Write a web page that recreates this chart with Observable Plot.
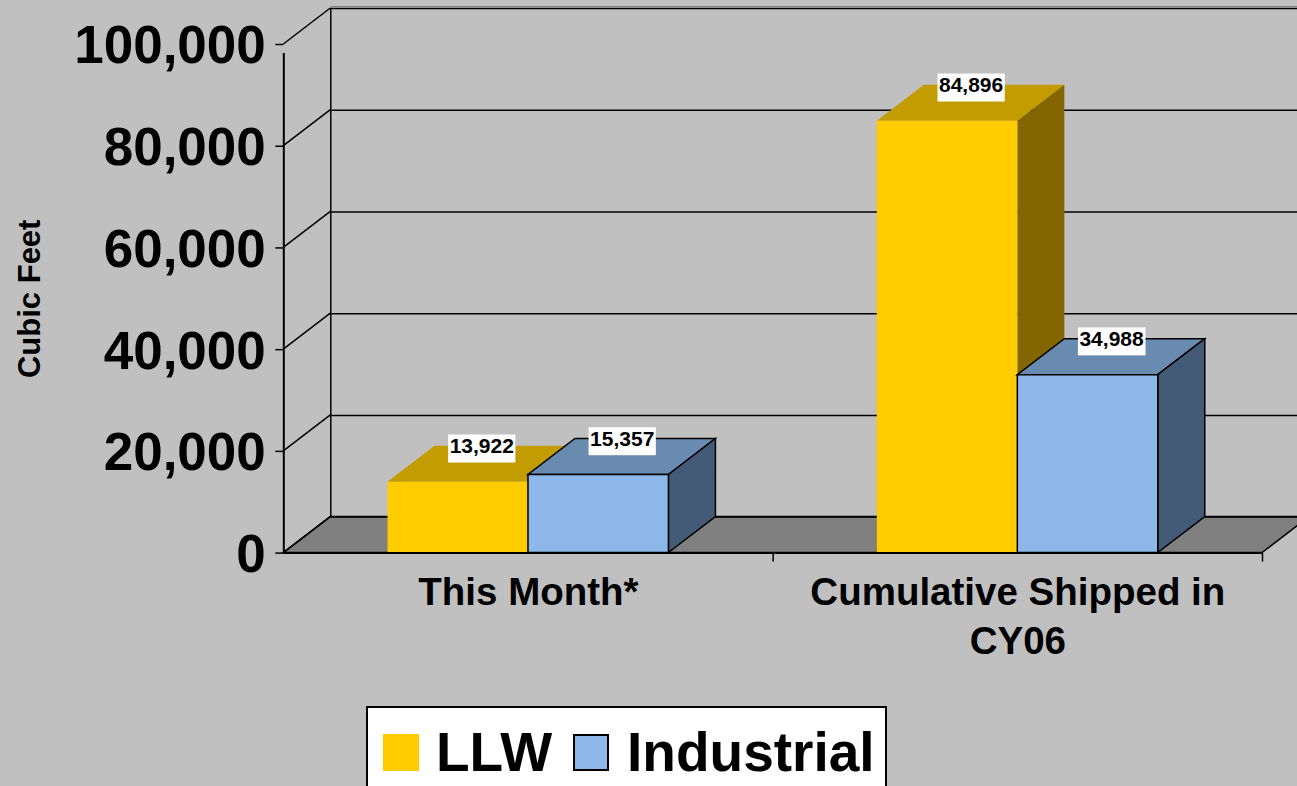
<!DOCTYPE html>
<html><head><meta charset="utf-8">
<script src="https://cdn.jsdelivr.net/npm/d3@7"></script>
<script src="https://cdn.jsdelivr.net/npm/@observablehq/plot@0.6"></script>
<style>
html,body{margin:0;padding:0;background:#c0c0c0;width:1297px;height:786px;overflow:hidden;font-family:"Liberation Sans",Arial,sans-serif;}
#chart{position:absolute;left:0;top:0;}
#legend{position:absolute;left:366px;top:706px;width:502px;height:100px;background:#fff;border:2px solid #000;display:flex;align-items:flex-start;padding-left:15px;box-sizing:content-box;}
.sw{width:36px;height:37px;margin-top:26px;box-sizing:border-box;flex:none;}
.lt{font-size:55px;font-weight:bold;line-height:55px;margin-top:17px;color:#000;white-space:nowrap;}
</style></head><body>
<div id="chart"></div>
<div id="legend"></div>
<script>
// ---- data ----
const categories = ["This Month*", "Cumulative Shipped in\nCY06"];
const seriesNames = ["LLW", "Industrial"];
const llwValues = [13922, 84896];
const industrialValues = [15357, 34988];
const yTickValues = [0, 20000, 40000, 60000, 80000, 100000];

// ---- styles ----
const seriesStyle = {
  LLW: {front: "#FFCC00", top: "#C29C00", side: "#836600", stroke: "none"},
  Industrial: {front: "#8CB7E8", top: "#6A8BB0", side: "#445B77", stroke: "#000"}
};
const DX = 47, DY = -36;      // 3D depth offset (pixels)
const BAR_W = 0.287;          // bar width as a fraction of a category band
const fmt = d3.format(",");

const rows = [];
categories.forEach((c, ci) => {
  [llwValues, industrialValues].forEach((vals, si) => {
    rows.push({category: c, ci, series: seriesNames[si], si, value: vals[ci]});
  });
});
const bx1 = r => r.ci + 0.5 + (r.si - 1) * BAR_W;
const bx2 = r => bx1(r) + BAR_W;
const bandEdges = d3.range(categories.length + 1);

function addPoly(g, pts, fill, stroke, sw) {
  g.append("path")
    .attr("d", "M" + pts.map(p => p.join(",")).join("L") + "Z")
    .attr("fill", fill)
    .attr("stroke", stroke)
    .attr("stroke-width", stroke === "none" ? 0 : sw)
    .attr("stroke-linejoin", "miter");
}

function barRender(index, scales, values) {
  const g = d3.create("svg:g");
  for (const i of index) {
    const r = rows[i];
    const c = seriesStyle[r.series];
    const x1 = values.x1[i], x2 = values.x2[i], yb = values.y1[i], yt = values.y2[i];
    addPoly(g, [[x1, yt], [x2, yt], [x2 + DX, yt + DY], [x1 + DX, yt + DY]], c.top, c.stroke, 1.5);
    addPoly(g, [[x2, yt], [x2 + DX, yt + DY], [x2 + DX, yb + DY], [x2, yb]], c.side, c.stroke, 1.5);
    addPoly(g, [[x1, yt], [x2, yt], [x2, yb], [x1, yb]], c.front, c.stroke, 1.5);
  }
  return g.node();
}

function floorRender(index, scales, values) {
  const g = d3.create("svg:g");
  for (const i of index) {
    const x1 = values.x1[i], x2 = values.x2[i], y = values.y1[i];
    addPoly(g, [[x1, y], [x2, y], [x2 + DX, y + DY], [x1 + DX, y + DY]], "#808080", "#000", 1.5);
  }
  return g.node();
}

function wallLinkRender(index, scales, values) {
  const g = d3.create("svg:g");
  for (const i of index) {
    const x = values.x1[i], y = values.y1[i];
    g.append("line").attr("x1", x).attr("y1", y).attr("x2", x + DX).attr("y2", y + DY)
      .attr("stroke", "#000").attr("stroke-width", 1.5);
  }
  return g.node();
}

const nCat = categories.length;
const yMax = yTickValues[yTickValues.length - 1];

const chart = Plot.plot({
  width: 1297,
  height: 700,
  marginLeft: 0, marginRight: 0, marginTop: 0, marginBottom: 0,
  style: {background: "#c0c0c0", color: "#000", fontFamily: "'Liberation Sans', Arial, sans-serif"},
  x: {type: "linear", domain: [0, nCat], range: [283.3, 1262], axis: null},
  y: {type: "linear", domain: [0, yMax], range: [552.6, 44], axis: null},
  marks: [
    // floor
    Plot.rect([0], {x1: 0, x2: nCat, y1: 0, y2: 0, render: floorRender}),
    // back wall top shade
    Plot.ruleY([yMax], {y: d => d, x1: 0, x2: nCat, dx: DX, dy: DY - 2, stroke: "#808080", strokeWidth: 1}),
    // back wall gridlines
    Plot.ruleY(yTickValues, {y: d => d, x1: 0, x2: nCat, dx: DX, dy: DY, stroke: "#000", strokeWidth: 1.5}),
    // back wall vertical edge
    Plot.ruleX([0], {x: d => d, y1: 0, y2: yMax, dx: DX, dy: DY, stroke: "#000", strokeWidth: 1.5}),
    // side wall slanted gridlines
    Plot.link(yTickValues, {x1: 0, x2: 0, y1: d => d, y2: d => d, render: wallLinkRender}),
    // bars
    Plot.rect(rows, {x1: bx1, x2: bx2, y1: 0, y2: "value", render: barRender}),
    // front axes
    Plot.ruleX([0], {x: d => d, y1: 0, y2: yMax, insetBottom: -9, stroke: "#000", strokeWidth: 2}),
    Plot.ruleY([0], {y: d => d, x1: 0, x2: nCat, stroke: "#000", strokeWidth: 2}),
    Plot.ruleY(yTickValues, {y: d => d, x1: 0, x2: 0, insetLeft: -8, stroke: "#000", strokeWidth: 1.5}),
    Plot.ruleX(bandEdges.slice(1), {x: d => d, y1: 0, y2: 0, insetBottom: -9, stroke: "#000", strokeWidth: 1.5}),
    // y tick labels
    Plot.text(yTickValues, {x: 0, y: d => d, text: d => fmt(d), textAnchor: "end", dx: -18, dy: 2, fontSize: 53, fontWeight: "bold", fill: "#000"}),
    // y axis title
    Plot.text(["Cubic Feet"], {y: () => yMax / 2, frameAnchor: "left", textAnchor: "middle", dx: 30, rotate: -90, text: d => d, fontSize: 31, fontWeight: "bold", fill: "#000"}),
    // category labels
    Plot.text(categories, {x: (d, i) => i + 0.5, y: 0, text: d => d, lineAnchor: "top", dy: 17, lineHeight: 1.27, fontSize: 38.5, fontWeight: "bold", fill: "#000"}),
    // value labels
    Plot.text(rows, {x: r => (bx1(r) + bx2(r)) / 2, y: "value", text: r => fmt(r.value), dx: DX / 2, dy: DY, fontSize: 21, fontWeight: "bold", fill: "#000", ariaDescription: "value labels"})
  ]
});
document.getElementById("chart").appendChild(chart);

// white boxes behind value labels
const ns = "http://www.w3.org/2000/svg";
const labelGroup = chart.querySelector('g[aria-description="value labels"]');
if (labelGroup) {
  labelGroup.querySelectorAll("text").forEach(t => {
    const b = t.getBBox();
    const rect = document.createElementNS(ns, "rect");
    rect.setAttribute("x", b.x - 1.5);
    rect.setAttribute("y", b.y + 0.5);
    rect.setAttribute("width", b.width + 3);
    rect.setAttribute("height", b.height + 5);
    rect.setAttribute("fill", "#fff");
    rect.setAttribute("stroke", "none");
    if (t.getAttribute("transform")) rect.setAttribute("transform", t.getAttribute("transform"));
    t.parentNode.insertBefore(rect, t);
  });
}

// legend
const legend = document.getElementById("legend");
seriesNames.forEach((name, i) => {
  const sw = document.createElement("div");
  sw.className = "sw";
  sw.style.background = seriesStyle[name].front;
  if (seriesStyle[name].stroke !== "none") sw.style.border = "2px solid " + seriesStyle[name].stroke;
  sw.style.marginLeft = i === 0 ? "0px" : "21px";
  const lt = document.createElement("div");
  lt.className = "lt";
  lt.textContent = name;
  lt.style.marginLeft = i === 0 ? "17px" : "18px";
  legend.appendChild(sw);
  legend.appendChild(lt);
});
</script>
</body></html>
